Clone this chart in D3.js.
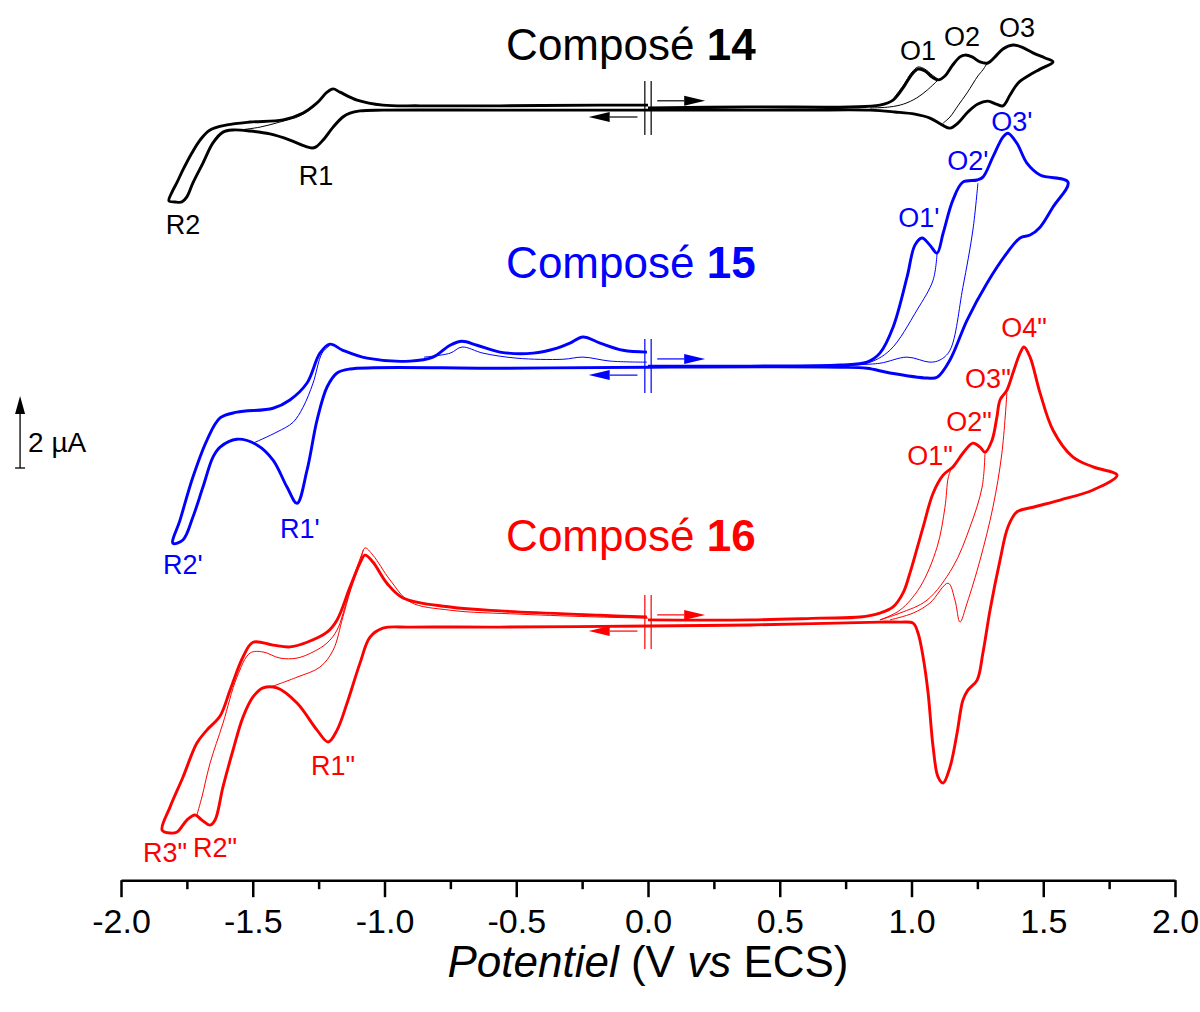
<!DOCTYPE html>
<html>
<head>
<meta charset="utf-8">
<script src="https://cdn.jsdelivr.net/npm/d3@7"></script>
<style>
  body { margin: 0; background: #fff; }
  svg { display: block; font-family: "Liberation Sans", Arial, sans-serif; }
</style>
</head>
<body>
<svg width="1200" height="1012"></svg>
<script>
// potentiel (V vs ECS), courant (µA) relatif à la ligne de base de chaque composé
const cv14Main = [
  [0,0],[0.387,0.03],[0.766,0.03],[0.880,0.08],[0.930,0.22],[0.968,0.56],[1.002,0.94],[1.025,1.08],[1.051,1.03],[1.078,0.86],[1.101,0.78],[1.127,0.89],[1.154,1.17],[1.184,1.42],[1.203,1.47],[1.230,1.42],[1.260,1.28],[1.290,1.25],[1.317,1.42],[1.347,1.64],[1.385,1.75],[1.419,1.69],[1.461,1.53],[1.507,1.39],[1.537,1.28],
  [1.488,1.08],[1.442,0.89],[1.404,0.69],[1.374,0.36],[1.347,0.06],[1.321,0.11],[1.290,0.19],[1.252,0.11],[1.214,-0.11],[1.176,-0.42],[1.146,-0.56],[1.116,-0.47],[1.070,-0.28],[1.013,-0.17],[0.937,-0.11],[0.843,-0.06],[0.577,-0.06],[0,-0.06],
  [-0.562,-0.06],[-1.006,-0.06],[-1.093,-0.08],[-1.131,-0.14],[-1.158,-0.25],[-1.195,-0.53],[-1.233,-0.89],[-1.260,-1.08],[-1.275,-1.11],[-1.302,-1.06],[-1.359,-0.89],[-1.435,-0.72],[-1.510,-0.64],[-1.575,-0.61],[-1.613,-0.67],[-1.651,-0.97],[-1.689,-1.53],[-1.727,-2.08],[-1.750,-2.47],[-1.769,-2.61],[-1.795,-2.61],[-1.818,-2.58],
  [-1.806,-2.33],[-1.787,-2.06],[-1.765,-1.72],[-1.731,-1.25],[-1.700,-0.89],[-1.662,-0.61],[-1.598,-0.47],[-1.510,-0.39],[-1.385,-0.33],[-1.309,-0.14],[-1.256,0.14],[-1.218,0.44],[-1.195,0.53],[-1.169,0.44],[-1.104,0.22],[-1.006,0.08],[-0.865,0.06],[-0.562,0.06],[-0.182,0.08],[0,0.08]
];
const cv14Thin = [
  [[-1.548,-0.61],[-1.472,-0.53],[-1.397,-0.39],[-1.321,-0.22],[-1.275,0.0],[-1.245,0.22]],
  [[1.101,0.78],[1.060,0.50],[1.020,0.28],[0.970,0.11],[0.918,0.03],[0.843,0.0]],
  [[1.290,1.28],[1.271,1.06],[1.252,0.89],[1.211,0.42],[1.176,0.06],[1.146,-0.25],[1.120,-0.42]],
  [[0.930,0.25],[0.968,0.62],[1.002,1.0],[1.025,1.14],[1.051,1.08],[1.078,0.92],[1.101,0.80]]
];

const cv15Main = [
  [0,0],[0.387,0.0],[0.729,0.03],[0.831,0.11],[0.880,0.36],[0.930,1.08],[0.983,2.47],[1.013,3.36],[1.040,3.56],[1.070,3.36],[1.097,3.14],[1.120,3.69],[1.157,4.61],[1.195,5.11],[1.249,5.17],[1.271,5.25],[1.309,5.81],[1.347,6.36],[1.366,6.47],[1.400,6.19],[1.438,5.64],[1.488,5.31],[1.594,5.11],
  [1.537,4.42],[1.488,3.86],[1.450,3.64],[1.412,3.56],[1.362,3.14],[1.287,2.31],[1.211,1.28],[1.146,0.17],[1.097,-0.31],[1.059,-0.33],[0.918,-0.19],[0.831,-0.06],[0.729,-0.03],[0,-0.03],
  [-0.562,-0.06],[-1.131,-0.08],[-1.180,-0.19],[-1.218,-0.58],[-1.256,-1.5],[-1.294,-2.89],[-1.332,-3.81],[-1.370,-3.36],[-1.423,-2.61],[-1.484,-2.19],[-1.560,-2.03],[-1.624,-2.25],[-1.651,-2.53],[-1.689,-3.36],[-1.727,-4.19],[-1.765,-4.83],[-1.803,-4.92],
  [-1.776,-4.28],[-1.727,-3.08],[-1.674,-2.06],[-1.624,-1.44],[-1.560,-1.28],[-1.423,-1.17],[-1.359,-0.94],[-1.294,-0.47],[-1.245,0.36],[-1.207,0.61],[-1.158,0.44],[-1.066,0.22],[-0.903,0.14],[-0.816,0.25],[-0.751,0.58],[-0.706,0.69],[-0.649,0.58],[-0.562,0.39],[-0.436,0.36],[-0.345,0.5],[-0.296,0.64],[-0.247,0.81],[-0.182,0.64],[-0.095,0.44],[-0.004,0.39]
];
const cv15Thin = [
  [[-1.499,-2.14],[-1.408,-1.83],[-1.347,-1.56],[-1.309,-1.14],[-1.271,-0.47],[-1.237,0.36],[-1.207,0.58]],
  [[-0.850,0.25],[-0.751,0.36],[-0.706,0.53],[-0.626,0.36],[-0.497,0.22],[-0.323,0.19],[-0.247,0.25],[-0.144,0.14],[-0.004,0.11]],
  [[1.097,3.14],[1.082,2.39],[1.021,1.56],[0.918,0.44],[0.831,0.08],[0.730,0.03]],
  [[1.252,5.08],[1.233,3.78],[1.195,2.19],[1.146,0.44],[1.108,0.17],[1.070,0.11],[0.983,0.25],[0.880,0.08],[0.750,0.03]]
];

const cv16Main = [
  [0,0.06],[0.387,0.06],[0.653,0.11],[0.805,0.14],[0.880,0.25],[0.930,0.42],[0.968,0.81],[0.994,1.36],[1.044,2.64],[1.082,3.58],[1.120,4.08],[1.157,4.31],[1.195,4.69],[1.233,4.97],[1.260,4.86],[1.279,4.72],[1.306,5.06],[1.324,5.69],[1.336,6.17],[1.362,6.44],[1.385,6.92],[1.412,7.47],[1.427,7.64],[1.450,7.36],[1.488,6.36],[1.537,5.33],[1.613,4.58],[1.689,4.31],[1.780,4.08],
  [1.689,3.67],[1.564,3.39],[1.461,3.19],[1.400,3.06],[1.366,2.64],[1.336,1.72],[1.298,0.33],[1.271,-0.86],[1.249,-1.61],[1.214,-1.89],[1.195,-2.17],[1.173,-3.08],[1.146,-4.03],[1.120,-4.47],[1.101,-4.31],[1.082,-3.47],[1.063,-1.97],[1.044,-0.97],[1.025,-0.31],[1.006,-0.03],[0.956,0],[0.880,0],[0.387,-0.08],[0,-0.11],
  [-0.562,-0.14],[-0.903,-0.14],[-1.006,-0.17],[-1.055,-0.42],[-1.093,-1.14],[-1.142,-2.25],[-1.180,-3.0],[-1.214,-3.33],[-1.256,-3.0],[-1.332,-2.25],[-1.408,-1.83],[-1.461,-1.83],[-1.499,-2.08],[-1.537,-2.64],[-1.575,-3.56],[-1.613,-4.58],[-1.643,-5.5],[-1.662,-5.64],[-1.693,-5.5],[-1.719,-5.36],[-1.750,-5.5],[-1.787,-5.83],[-1.814,-5.86],[-1.844,-5.78],
  [-1.814,-5.14],[-1.765,-4.31],[-1.712,-3.36],[-1.674,-3.0],[-1.624,-2.61],[-1.586,-1.89],[-1.537,-0.97],[-1.499,-0.56],[-1.423,-0.64],[-1.359,-0.69],[-1.294,-0.56],[-1.218,-0.28],[-1.180,0.06],[-1.131,0.97],[-1.093,1.64],[-1.074,1.86],[-1.044,1.67],[-0.991,1.08],[-0.930,0.67],[-0.751,0.42],[-0.562,0.31],[-0.182,0.19],[-0.004,0.14]
];
const cv16Thin = [
  [[-1.712,-5.36],[-1.693,-4.86],[-1.662,-3.92],[-1.613,-2.81],[-1.560,-1.53],[-1.510,-0.86],[-1.461,-0.83],[-1.397,-1.0],[-1.332,-1.0],[-1.271,-0.83],[-1.218,-0.58],[-1.180,-0.22],[-1.142,0.61],[-1.093,1.64],[-1.074,2.06],[-1.044,1.86],[-0.979,1.17],[-0.903,0.56],[-0.751,0.33],[-0.486,0.22],[-0.182,0.14],[0,0.11]],
  [[-1.435,-1.81],[-1.332,-1.53],[-1.245,-1.25],[-1.195,-0.78],[-1.158,0.14],[-1.104,1.53],[-1.080,2.0]],
  [[1.150,4.25],[1.139,4.0],[1.127,3.19],[1.097,2.08],[1.032,0.97],[0.956,0.33],[0.880,0.06]],
  [[1.279,4.72],[1.268,3.75],[1.222,2.64],[1.157,1.53],[1.059,0.61],[0.956,0.25],[0.880,0.06]],
  [[1.362,6.36],[1.343,4.69],[1.309,3.19],[1.260,1.72],[1.211,0.53],[1.184,0],[1.165,0.61],[1.139,1.08],[1.070,0.53],[1.006,0.25],[0.918,0.06]]
];

const xTicks = [-2, -1.5, -1, -0.5, 0, 0.5, 1, 1.5, 2];
const xTickLabels = ["-2.0", "-1.5", "-1.0", "-0.5", "0.0", "0.5", "1.0", "1.5", "2.0"];
const xMinorTicks = [-1.75, -1.25, -0.75, -0.25, 0.25, 0.75, 1.25, 1.75];

// étiquettes des pics : [texte, E, I]
const labels14 = [["O1",1.025,1.61],["O2",1.192,2.0],["O3",1.400,2.25],["R1",-1.260,-1.86],["R2",-1.765,-3.22]];
const labels15 = [["O3'",1.381,6.81],["O2'",1.214,5.72],["O1'",1.028,4.14],["R1'",-1.321,-4.5],["R2'",-1.765,-5.5]];
const labels16 = [["O4\"",1.427,8.19],["O3\"",1.290,6.78],["O2\"",1.218,5.58],["O1\"",1.070,4.64],["R1\"",-1.195,-3.97],["R2\"",-1.643,-6.25],["R3\"",-1.833,-6.39]];

const compounds = [
  { num: "14", color: "#000000", offset: 0, main: cv14Main, thin: cv14Thin, labels: labels14, titleI: 1.78 },
  { num: "15", color: "#0000ff", offset: -7.17, main: cv15Main, thin: cv15Thin, labels: labels15, titleI: 2.89 },
  { num: "16", color: "#ff0000", offset: -14.28, main: cv16Main, thin: cv16Thin, labels: labels16, titleI: 2.42 }
];

const svg = d3.select("svg");
const x = d3.scaleLinear().domain([-2, 2]).range([121, 1175]);
const y = d3.scaleLinear().domain([-21.5, 3]).range([882, 0]);

compounds.forEach(c => {
  const line = d3.line()
      .x(d => x(d[0]))
      .y(d => y(d[1] + c.offset))
      .curve(d3.curveCatmullRom.alpha(0.5));

  const g = svg.append("g").attr("class", "cv cv" + c.num);

  g.selectAll(".thin")
      .data(c.thin)
      .enter().append("path")
      .attr("class", "thin")
      .attr("d", line)
      .attr("fill", "none")
      .attr("stroke", c.color)
      .attr("stroke-width", 1);

  g.append("path")
      .datum(c.main)
      .attr("d", line)
      .attr("fill", "none")
      .attr("stroke", c.color)
      .attr("stroke-width", 2.9)
      .attr("stroke-linejoin", "round");

  // double trait à 0 V et flèches de sens de balayage
  [-0.012, 0.012].forEach(e => {
    g.append("line")
        .attr("x1", x(e)).attr("x2", x(e))
        .attr("y1", y(c.offset + 0.75)).attr("y2", y(c.offset - 0.75))
        .attr("stroke", c.color).attr("stroke-width", 1.2);
  });
  const arrow = (e0, e1, iv) => {
    const yy = y(c.offset + iv);
    const dir = Math.sign(e1 - e0);
    const xe = x(e1), xh = xe - dir * 21;
    g.append("line")
        .attr("x1", x(e0)).attr("x2", xh)
        .attr("y1", yy).attr("y2", yy)
        .attr("stroke", c.color).attr("stroke-width", 1.2);
    g.append("path")
        .attr("d", `M${xe},${yy}L${xh},${yy - 5}L${xh},${yy + 5}Z`)
        .attr("fill", c.color);
  };
  arrow(0.035, 0.217, 0.2);
  arrow(-0.04, -0.225, -0.25);

  g.selectAll(".lbl")
      .data(c.labels)
      .enter().append("text")
      .attr("class", "lbl")
      .attr("x", d => x(d[1]))
      .attr("y", d => y(d[2] + c.offset))
      .attr("dy", "0.36em")
      .attr("text-anchor", "middle")
      .attr("font-size", 27)
      .attr("fill", c.color)
      .text(d => d[0]);

  const t = g.append("text")
      .attr("x", x(-0.065))
      .attr("y", y(c.titleI + c.offset))
      .attr("dy", "0.36em")
      .attr("text-anchor", "middle")
      .attr("font-size", 44)
      .attr("fill", c.color);
  t.append("tspan").text("Composé ");
  t.append("tspan").attr("font-weight", "bold").text(c.num);
});

// axe des potentiels
const axisY = y(-21.45);
const axisG = svg.append("g")
    .attr("transform", `translate(0,${axisY})`)
    .call(d3.axisBottom(x)
      .tickValues(xTicks)
      .tickFormat((d, i) => xTickLabels[i])
      .tickSize(17)
      .tickPadding(12)
      .tickSizeOuter(0));
axisG.select(".domain").attr("stroke-width", 2.5);
axisG.selectAll(".tick line").attr("stroke-width", 2.5);
axisG.selectAll(".tick text")
    .attr("font-size", 34)
    .attr("font-family", "Liberation Sans, Arial, sans-serif")
    .attr("fill", "#000");

const minorG = svg.append("g")
    .attr("transform", `translate(0,${axisY})`)
    .call(d3.axisBottom(x).tickValues(xMinorTicks).tickSize(9).tickFormat(""));
minorG.select(".domain").remove();
minorG.selectAll(".tick line").attr("stroke-width", 2.5);

const xTitle = svg.append("text")
    .attr("x", x(0))
    .attr("y", 977)
    .attr("text-anchor", "middle")
    .attr("font-size", 44)
    .attr("fill", "#000");
xTitle.append("tspan").attr("font-style", "italic").text("Potentiel");
xTitle.append("tspan").text(" (V ");
xTitle.append("tspan").attr("font-style", "italic").text("vs");
xTitle.append("tspan").text(" ECS)");

// barre d'échelle 2 µA
const scaleBarValue = 2;
const sbE = -2.383, sbI0 = -10.0;
const sbx = x(sbE), sbY0 = y(sbI0), sbY1 = y(sbI0 + scaleBarValue);
svg.append("line")
    .attr("x1", sbx).attr("x2", sbx)
    .attr("y1", sbY0).attr("y2", sbY1 + 12)
    .attr("stroke", "#000").attr("stroke-width", 1.3);
svg.append("line")
    .attr("x1", sbx - 5).attr("x2", sbx + 5)
    .attr("y1", sbY0).attr("y2", sbY0)
    .attr("stroke", "#000").attr("stroke-width", 1.3);
svg.append("path")
    .attr("d", `M${sbx},${sbY1}L${sbx - 5},${sbY1 + 18}L${sbx + 5},${sbY1 + 18}Z`)
    .attr("fill", "#000");
svg.append("text")
    .attr("x", sbx + 8)
    .attr("y", (sbY0 + sbY1) / 2 + 20)
    .attr("font-size", 28)
    .attr("fill", "#000")
    .text(scaleBarValue + " µA");
</script>
</body>
</html>
